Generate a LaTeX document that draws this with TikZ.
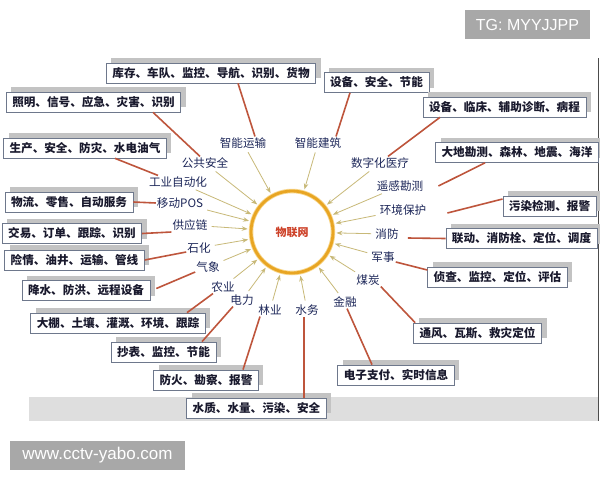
\documentclass[tikz,border=0pt]{standalone}
\usepackage{fontspec}
\setmainfont{Liberation Sans}
\newfontfamily\cjk{Noto Sans CJK SC}
\usetikzlibrary{arrows.meta,shapes.geometric,shadows}
\definecolor{navy}{RGB}{30,40,90}
\definecolor{boxtext}{RGB}{25,25,45}
\definecolor{conred}{RGB}{190,85,60}
\definecolor{arrtan}{RGB}{200,185,120}
\definecolor{ringor}{RGB}{232,165,35}
\definecolor{ringglow}{RGB}{248,215,140}
\definecolor{shadowgray}{RGB}{195,195,195}
\definecolor{boxborder}{RGB}{110,120,140}
\definecolor{band}{RGB}{222,222,222}
\definecolor{wm}{RGB}{168,168,168}
\definecolor{hubred}{RGB}{205,65,40}
\begin{document}
\begin{tikzpicture}[x=1pt,y=-1pt,
  lbl/.style={font=\cjk\fontsize{11.6}{12}\selectfont, text=navy, inner sep=1pt},
  infobox/.style={draw=boxborder, line width=0.7pt, fill=white,
    font=\cjk\bfseries\fontsize{11.6}{12}\selectfont, text=boxtext,
    minimum height=20pt, inner xsep=6pt, inner ysep=0pt,
    drop shadow={shadow xshift=5pt, shadow yshift=5pt, fill=shadowgray, opacity=1}},
  con/.style={draw=conred, line width=1.6pt},
  arr/.style={draw=arrtan, line width=0.8pt, -{Stealth[length=6pt,width=4.5pt]},
    shorten >=2pt, shorten <=3pt},
  wmbox/.style={fill=wm, text=white, inner sep=0pt, minimum height=29pt}
]
\useasboundingbox (0,0) rectangle (600,480);
\fill[white] (0,0) rectangle (600,480);

% bottom band and right border of the original picture
\fill[band] (29,397) rectangle (598,421);
\draw[line width=1pt, draw=black!70] (598.5,58) -- (598.5,421);

% hub
\node[circle, minimum size=82pt, draw=ringor, line width=2.8pt,
      preaction={draw=ringglow, line width=4.5pt},
      font=\cjk\bfseries\fontsize{11}{12}\selectfont, text=hubred] (hub) at (292,232) {物联网};

% labels
\node[lbl] (l-gg)  at (205,163) {公共安全};
\node[lbl] (l-zy)  at (243,143) {智能运输};
\node[lbl] (l-zj)  at (318,143) {智能建筑};
\node[lbl] (l-sz)  at (380,163) {数字化医疗};
\node[lbl] (l-yg)  at (400,186) {遥感勘测};
\node[lbl] (l-hj)  at (403,210) {环境保护};
\node[lbl] (l-xf)  at (387,234) {消防};
\node[lbl] (l-js)  at (383,257) {军事};
\node[lbl] (l-mt)  at (368,280) {煤炭};
\node[lbl] (l-jr)  at (345,302) {金融};
\node[lbl] (l-sw)  at (307,310) {水务};
\node[lbl] (l-ly)  at (270,310) {林业};
\node[lbl] (l-dl)  at (242,300) {电力};
\node[lbl] (l-ny)  at (223,287) {农业};
\node[lbl] (l-qx)  at (208,267) {气象};
\node[lbl] (l-sh)  at (199,248) {石化};
\node[lbl] (l-gyl) at (190,225) {供应链};
\node[lbl] (l-yd)  at (180,203) {移动POS};
\node[lbl] (l-gy)  at (178,182) {工业自动化};

% arrows to hub
\foreach \n in {l-gg,l-zy,l-zj,l-sz,l-yg,l-hj,l-xf,l-js,l-mt,l-jr,l-sw,l-ly,l-dl,l-ny,l-qx,l-sh,l-gyl,l-yd,l-gy}
  \draw[arr] (\n) -- (hub);

% boxes
\node[infobox] (b1)  at (211,73)    {库存、车队、监控、导航、识别、货物};
\node[infobox] (b2)  at (376.5,82.5){设备、安全、节能};
\node[infobox] (b3)  at (93.5,102)  {照明、信号、应急、灾害、识别};
\node[infobox] (b4)  at (85,148)    {生产、安全、防灾、水电油气};
\node[infobox] (b5)  at (69,202)    {物流、零售、自动服务};
\node[infobox] (b6)  at (72,233.5)  {交易、订单、跟踪、识别};
\node[infobox] (b7)  at (74.5,260)  {险情、油井、运输、管线};
\node[infobox] (b8)  at (86,290.5)  {降水、防洪、远程设备};
\node[infobox] (b9)  at (118,323)   {大棚、土壤、灌溉、环境、跟踪};
\node[infobox] (b10) at (163.5,352) {抄表、监控、节能};
\node[infobox] (b11) at (206,380)   {防火、勘察、报警};
\node[infobox] (b12) at (256.5,408) {水质、水量、污染、安全};
\node[infobox] (b13) at (396,375)   {电子支付、实时信息};
\node[infobox] (b14) at (477.5,333) {通风、瓦斯、救灾定位};
\node[infobox] (b15) at (497.5,277) {侦查、监控、定位、评估};
\node[infobox] (b16) at (521.5,238.5){联动、消防栓、定位、调度};
\node[infobox] (b17) at (549.5,206) {污染检测、报警};
\node[infobox] (b18) at (517,152.5) {大地勘测、森林、地震、海洋};
\node[infobox] (b19) at (504.5,107) {设备、临床、辅助诊断、病程};

% connectors box -- label
\draw[con] ([xshift=27pt]b1.south) -- ([xshift=12pt]l-zy.north);
\draw[con] ([xshift=-26.5pt]b2.south) -- ([xshift=18pt]l-zj.north);
\draw[con] ([xshift=59.5pt]b3.south) -- ([xshift=-5pt]l-gg.north);
\draw[con] ([xshift=30pt]b4.south) -- ([xshift=-20pt]l-gy.north);
\draw[con] (b5.east) -- (l-yd.west);
\draw[con] (b6.east) -- ([yshift=-7pt]l-gyl.west);
\draw[con] (b7.east) -- ([yshift=-4pt]l-sh.west);
\draw[con] ([xshift=6pt,yshift=2pt]b8.east) -- ([yshift=-5pt]l-qx.west);
\draw[con] ([xshift=69pt]b9.north) -- ([xshift=-10pt]l-ny.south);
\draw[con] ([xshift=38.5pt]b10.north) -- ([xshift=-9pt]l-dl.south);
\draw[con] ([xshift=37pt]b11.north) -- ([xshift=-10pt]l-ly.south);
\draw[con] ([xshift=47.5pt]b12.north) -- ([xshift=-3pt]l-sw.south);
\draw[con] ([xshift=-24pt]b13.north) -- ([xshift=2pt]l-jr.south);
\draw[con] ([xshift=2pt]b14.north west) -- (l-mt.south east);
\draw[con] ([yshift=-5pt]l-js.east) -- ([yshift=7pt]b15.west);
\draw[con] ([xshift=8pt,yshift=-4pt]l-xf.east) -- (b16.west);
\draw[con] ([xshift=20pt,yshift=-3pt]l-hj.east) -- ([yshift=7pt]b17.west);
\draw[con] ([xshift=14pt]l-yg.east) -- ([xshift=-32pt]b18.south);
\draw[con] ([xshift=8pt]l-sz.north) -- ([xshift=-64.5pt]b19.south);

% watermarks
\node[wmbox, minimum width=125pt, font=\fontsize{16}{18}\selectfont] (wm1) at (527.5,24.5) {TG: MYYJJPP};
\node[wmbox, minimum width=175pt, font=\fontsize{17}{19}\selectfont] (wm2) at (97.5,455) {www.cctv-yabo.com};
\end{tikzpicture}
\end{document}
